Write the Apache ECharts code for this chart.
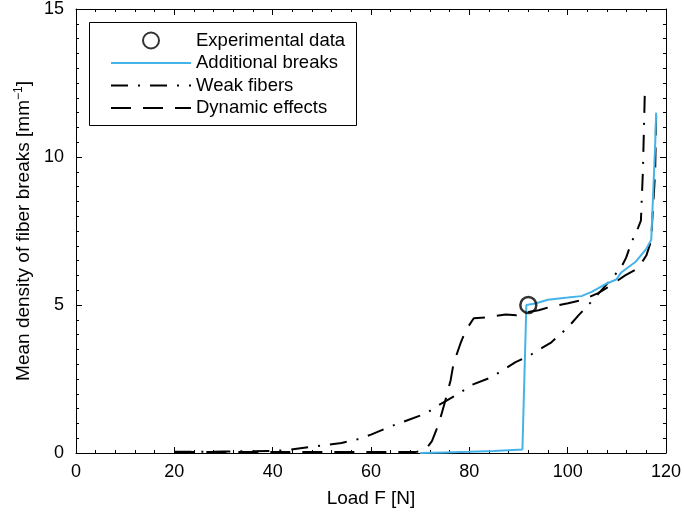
<!DOCTYPE html>
<html>
<head>
<meta charset="utf-8">
<script src="https://cdn.jsdelivr.net/npm/echarts@6/dist/echarts.min.js"></script>
<style>
html,body{margin:0;padding:0;background:#fff;}
#chart{width:684px;height:515px;}
</style>
</head>
<body>
<div id="chart"></div>
<script>
// Experimental data
var expX = [92];
var expY = [5.0];
// Additional breaks
var addX = [70, 75, 80, 85, 90.8, 91.6, 93.4, 96, 100, 102.8, 105, 107.6, 109.9, 110.9, 113.9, 116, 117, 117.4, 117.8, 118];
var addY = [0, 0.02, 0.04, 0.07, 0.12, 5.0, 5.05, 5.18, 5.25, 5.3, 5.45, 5.7, 5.86, 6.1, 6.47, 6.9, 7.2, 8.8, 10.4, 11.5];
// Weak fibers
var weakX = [20, 25, 30, 35, 40, 43, 46, 50, 54, 57, 60, 63.7, 67.3, 71.2, 74.4, 77.8, 80.5, 84.5, 87.4, 89.4, 92, 94.7, 96.7, 100.1, 102.2, 104.2, 107.2, 109, 110.9, 111.9, 112.9, 114.3, 114.9, 115.3, 115.7];
var weakY = [0.04, 0.04, 0.05, 0.06, 0.07, 0.1, 0.17, 0.25, 0.34, 0.45, 0.62, 0.88, 1.1, 1.34, 1.68, 2.0, 2.3, 2.56, 2.86, 3.07, 3.27, 3.54, 3.74, 4.25, 4.65, 5.0, 5.56, 5.9, 6.27, 6.6, 7.08, 7.6, 7.85, 9.5, 12.2];
// Dynamic effects
var dynX = [20, 30, 40, 50, 60, 69, 71, 72.4, 73.8, 75, 76.2, 76.8, 78.2, 79.3, 80.9, 83.3, 87.4, 89.6, 91.4, 94.1, 96.1, 100.1, 102.8, 106.2, 107.8, 109.5, 111.7, 114.3, 116, 117, 117.2, 117.8, 118];
var dynY = [0.03, 0.03, 0.03, 0.03, 0.03, 0.03, 0.1, 0.4, 1.0, 1.7, 2.46, 3.03, 3.7, 4.15, 4.55, 4.58, 4.68, 4.65, 4.75, 4.82, 4.92, 5.06, 5.16, 5.4, 5.56, 5.75, 6.0, 6.24, 6.67, 7.18, 7.85, 9.5, 11.4];

var names = ['Experimental data', 'Additional breaks', 'Weak fibers', 'Dynamic effects'];
var xTicks = {min: 0, max: 120, interval: 20};
var yTicks = {min: 0, max: 15, interval: 5};

function zip(a, b) { return a.map(function (v, i) { return [v, b[i]]; }); }

var FONT = 'Liberation Sans';
var chart = echarts.init(document.getElementById('chart'), null, {renderer: 'canvas'});

function xAxis(pos, show) {
  return {
    type: 'value', position: pos, min: xTicks.min, max: xTicks.max, interval: xTicks.interval,
    name: show ? 'Load F [N]' : '', nameLocation: 'middle', nameGap: 36,
    nameTextStyle: {fontFamily: FONT, fontSize: 19, color: '#000'},
    axisLine: {show: true, onZero: false, lineStyle: {color: '#000', width: 1}},
    axisTick: {show: true, inside: true, length: 6, lineStyle: {color: '#000'}},
    minorTick: {show: true, splitNumber: 5, length: 3, lineStyle: {color: '#000'}},
    axisLabel: {show: show, margin: 10, fontFamily: FONT, fontSize: 18, color: '#000'},
    splitLine: {show: false}
  };
}
function yAxis(pos, show) {
  return {
    type: 'value', position: pos, min: yTicks.min, max: yTicks.max, interval: yTicks.interval,
    name: show ? 'Mean density of fiber breaks [mm{sup|\u22121}]' : '', nameLocation: 'middle', nameGap: 37,
    nameTextStyle: {fontFamily: FONT, fontSize: 19, color: '#000',
      rich: {sup: {fontFamily: FONT, fontSize: 12, color: '#000', verticalAlign: 'top', padding: [0, 0, 9, 0]}}},
    axisLine: {show: true, onZero: false, lineStyle: {color: '#000', width: 1}},
    axisTick: {show: true, inside: true, length: 6, lineStyle: {color: '#000'}},
    minorTick: {show: true, splitNumber: 10, length: 3, lineStyle: {color: '#000'}},
    axisLabel: {show: show, margin: 12, fontFamily: FONT, fontSize: 18, color: '#000'},
    splitLine: {show: false}
  };
}

var noSym = {opacity: 0};

chart.setOption({
  animation: false,
  backgroundColor: '#fff',
  grid: {left: 76, right: 16, top: 8, bottom: 62, show: false},
  xAxis: [xAxis('bottom', true), xAxis('top', false)],
  yAxis: [yAxis('left', true), yAxis('right', false)],
  graphic: [{
    type: 'rect', left: 89, top: 22, z: 5,
    shape: {width: 267, height: 103},
    style: {fill: '#fff', stroke: '#000', lineWidth: 1}
  }],
  legend: {
    orient: 'vertical', left: 105, top: 26, z: 10,
    itemWidth: 80, itemHeight: 16, itemGap: 3.5,
    textStyle: {fontFamily: FONT, fontSize: 18.5, color: '#000', padding: [0, 0, 0, 0]},
    data: [
      {name: names[0]},
      {name: names[1], itemStyle: noSym},
      {name: names[2], itemStyle: noSym},
      {name: names[3], itemStyle: noSym}
    ]
  },
  series: [
    {
      name: names[1], type: 'line', data: zip(addX, addY), symbol: 'none', z: 3,
      lineStyle: {color: '#45b3e8', width: 2}, itemStyle: {color: '#45b3e8'}
    },
    {
      name: names[2], type: 'line', data: zip(weakX, weakY), symbol: 'none', z: 2,
      lineStyle: {color: '#000', width: 2, type: [17, 10, 2, 10]}, itemStyle: {color: '#000'}
    },
    {
      name: names[3], type: 'line', data: zip(dynX, dynY), symbol: 'none', z: 2,
      lineStyle: {color: '#000', width: 2, type: [20, 12]}, itemStyle: {color: '#000'}
    },
    {
      name: names[0], type: 'scatter', data: zip(expX, expY), symbol: 'circle', symbolSize: 16, z: 4,
      itemStyle: {color: 'rgba(0,0,0,0)', borderColor: '#000', borderWidth: 2.5}
    }
  ]
});
</script>
</body>
</html>
